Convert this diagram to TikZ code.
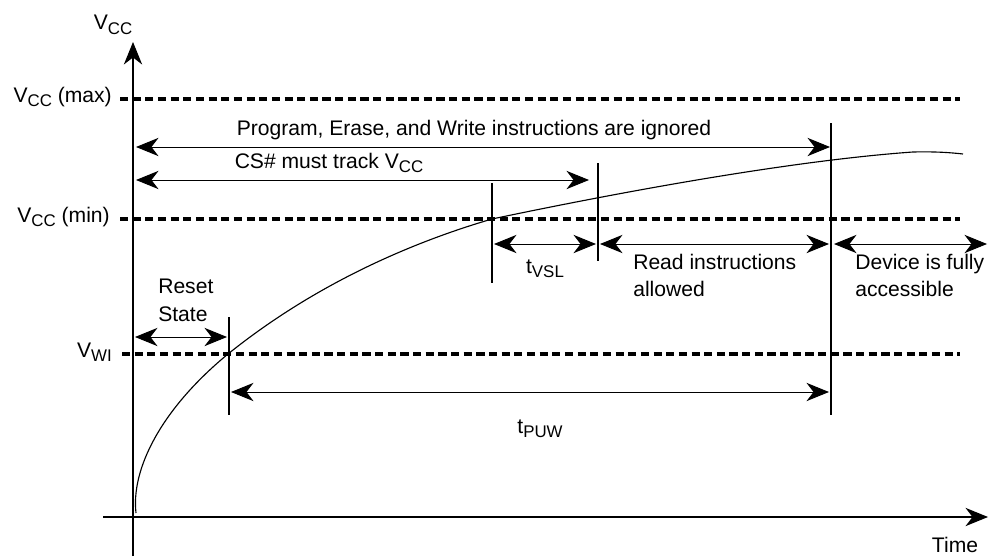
\documentclass[tikz,border=0pt]{standalone}
\usepackage{fontspec}
\setmainfont{Liberation Sans}
\usetikzlibrary{arrows.meta}

\newcommand{\lowsub}[1]{\raisebox{-0.4ex}{\fontsize{12}{13}\selectfont #1}}

\tikzset{
  lbl/.style={font=\fontsize{15}{19.5}\selectfont, inner sep=0pt},
  span/.style={{Stealth[length=16pt,width=13pt,inset=5pt]}-{Stealth[length=16pt,width=13pt,inset=5pt]}, line width=0.7pt},
  level/.style={line width=2.6pt, dash pattern=on 5.8pt off 3.2pt},
  guide/.style={line width=0.8pt}
}

\begin{document}
\begin{tikzpicture}[x=0.025cm, y=-0.025cm]
        \useasboundingbox (0,0) rectangle (990,558);

        % axes
        \coordinate (O) at (133,517);
        \coordinate (Ytop) at (133,42);
        \coordinate (Ybot) at (133,556);
        \coordinate (Xleft) at (103,517);
        \coordinate (Xright) at (988,517);
        \draw[line width=0.8pt, -{Stealth[length=16pt,width=13pt,inset=5pt]}] (Ybot) -- (Ytop);
        \draw[line width=0.8pt, -{Stealth[length=16pt,width=13pt,inset=5pt]}] (Xleft) -- (Xright);
        \node[lbl] (vcc) at (113,25) {V\lowsub{CC}};
        \node[lbl] (time) at (955,545) {Time};

        % voltage levels
        \coordinate (Max1) at (120,99);
        \coordinate (Max2) at (960,99);
        \coordinate (Min1) at (120,219);
        \coordinate (Min2) at (960,219);
        \coordinate (Wi1) at (122,354);
        \coordinate (Wi2) at (960,354);
        \draw[level] (Max1) -- (Max2);
        \draw[level] (Min1) -- (Min2);
        \draw[level] (Wi1) -- (Wi2);
        \node[lbl, anchor=east] (vmax) at (112,97) {V\lowsub{CC} (max)};
        \node[lbl, anchor=east] (vmin) at (110,217) {V\lowsub{CC} (min)};
        \node[lbl, anchor=east] (vwi) at (112,352) {V\lowsub{WI}};

        % supply ramp
        \draw[line width=0.8pt] (136,513) .. controls (131,470) and (160,410) .. (228,354)
            .. controls (320,280) and (420,240) .. (492,219)
            .. controls (640,188) and (800,160) .. (913,152)
            .. controls (935,151.5) and (950,152.5) .. (963,154);

        % time marks
        \coordinate (A1) at (229,317);
        \coordinate (A2) at (229,415);
        \coordinate (B1) at (492,183);
        \coordinate (B2) at (492,283);
        \coordinate (C1) at (598,163);
        \coordinate (C2) at (598,261);
        \coordinate (D1) at (831,123);
        \coordinate (D2) at (831,415);
        \draw[guide] (A1) -- (A2);
        \draw[guide] (B1) -- (B2);
        \draw[guide] (C1) -- (C2);
        \draw[guide] (D1) -- (D2);

        % spans
        \coordinate (P1) at (136,147);
        \coordinate (P2) at (830,147);
        \coordinate (S1) at (136,180);
        \coordinate (S2) at (589,180);
        \coordinate (R1) at (135,337);
        \coordinate (R2) at (227,337);
        \coordinate (T1) at (494,244);
        \coordinate (T2) at (596,244);
        \coordinate (E1) at (600,244);
        \coordinate (E2) at (829,244);
        \coordinate (F1) at (834,244);
        \coordinate (F2) at (987,244);
        \coordinate (U1) at (231,392);
        \coordinate (U2) at (829,392);
        \draw[span] (P1) -- (P2);
        \draw[span] (S1) -- (S2);
        \draw[span] (R1) -- (R2);
        \draw[span] (T1) -- (T2);
        \draw[span] (E1) -- (E2);
        \draw[span] (F1) -- (F2);
        \draw[span] (U1) -- (U2);

        \node[lbl] (prog) at (474,130) {Program, Erase, and Write instructions are ignored};
        \node[lbl] (cs) at (329,163) {CS\# must track V\lowsub{CC}};
        \node[lbl, align=left, anchor=north west] (reset) at (158,279) {Reset\\State};
        \node[lbl] (tvsl) at (545,269) {t\lowsub{VSL}};
        \node[lbl, align=left, anchor=north west] (read) at (633,254) {Read instructions\\allowed};
        \node[lbl, align=left, anchor=north west] (dev) at (855,254) {Device is fully\\accessible};
        \node[lbl] (tpuw) at (540,429) {t\lowsub{PUW}};
    \end{tikzpicture}
\end{document}
